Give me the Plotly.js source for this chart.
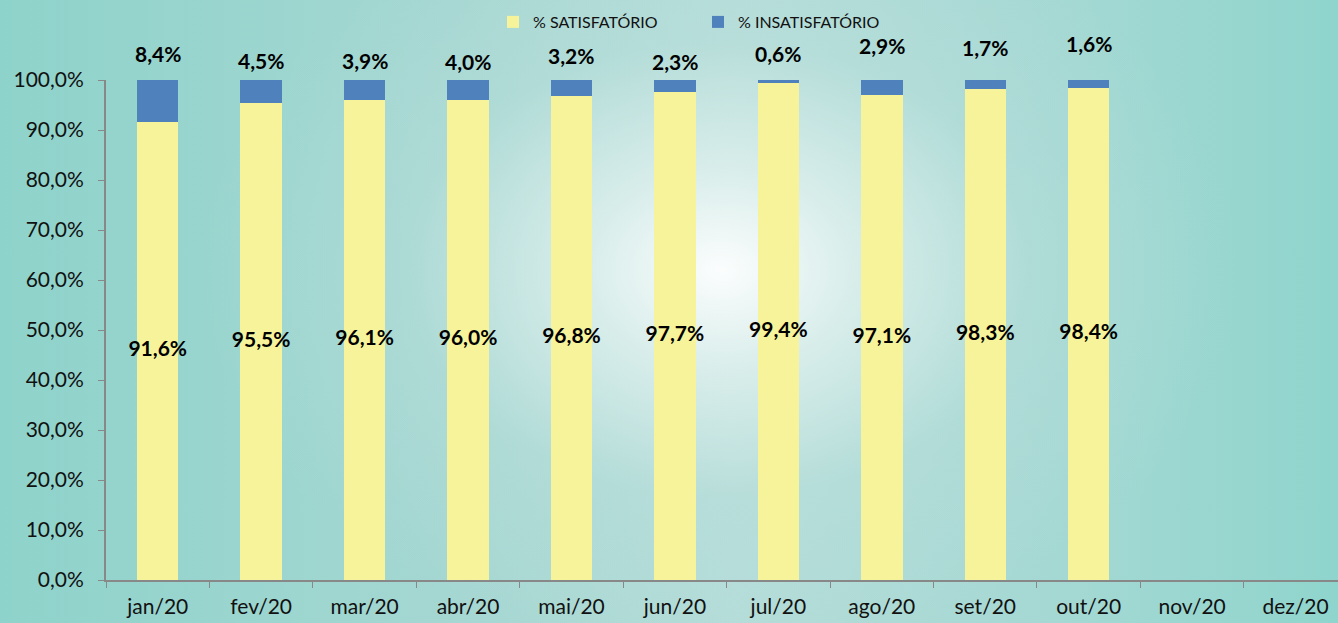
<!DOCTYPE html>
<html><head><meta charset="utf-8">
<script src="https://cdn.plot.ly/plotly-3.0.1.min.js"></script>
<style>
html,body{margin:0;padding:0;width:1338px;height:623px;overflow:hidden;}
body{background:
 radial-gradient(ellipse 520px 380px at 720px 270px, rgba(255,255,255,0.95) 0%, rgba(235,246,244,0.7) 25%, rgba(190,225,221,0.35) 60%, rgba(150,212,205,0) 100%),
 linear-gradient(90deg,#8ed3cb 0%,#a6d7d2 35%,#b4dcd8 55%,#a4d8d3 80%,#8fd5cd 100%);}
#chart{width:1338px;height:623px;}
</style></head>
<body><div id="chart"></div>
<script>
const months = ["jan/20","fev/20","mar/20","abr/20","mai/20","jun/20","jul/20","ago/20","set/20","out/20","nov/20","dez/20"];
const satisfatorio = [91.6,95.5,96.1,96.0,96.8,97.7,99.4,97.1,98.3,98.4,null,null];
const insatisfatorio = [8.4,4.5,3.9,4.0,3.2,2.3,0.6,2.9,1.7,1.6,null,null];
// label vertical offsets (px, layout only)
const topLabelShift = [12,5,5,4,10,4,12,20,18,22];

const fmt = v => v.toFixed(1).replace('.', ',') + '%';
const sat = satisfatorio.map(v => v == null ? null : v/100);
const ins = insatisfatorio.map(v => v == null ? null : v/100);

const traces = [
 {type:'bar', name:'% SATISFATÓRIO', x:months, y:sat, marker:{color:'#f7f39a'}, hoverinfo:'skip'},
 {type:'bar', name:'% INSATISFATÓRIO', x:months, y:ins, marker:{color:'#4f81bd'}, hoverinfo:'skip'},
 {type:'scatter', mode:'text', x:months, y:sat.map(v => v == null ? null : v/2),
  text:satisfatorio.map(v => v == null ? '' : fmt(v)), textfont:{family:'Lato, sans-serif', size:21, color:'#000', weight:'bold'},
  showlegend:false, cliponaxis:false, hoverinfo:'skip'}
];

const annotations = [];
insatisfatorio.forEach((v,i) => {
  if (v == null) return;
  annotations.push({x:months[i], y:1, xref:'x', yref:'y', text:'<b>'+fmt(v)+'</b>', showarrow:false,
    yanchor:'bottom', yshift:topLabelShift[i], font:{family:'Lato, sans-serif', size:21, color:'#000'}});
});

const layout = {
 width:1338, height:623,
 paper_bgcolor:'rgba(0,0,0,0)', plot_bgcolor:'rgba(0,0,0,0)',
 barmode:'stack', bargap:0.6,
 separators:',.',
 margin:{l:106, r:0, t:80, b:43, autoexpand:false},
 font:{family:'Lato, sans-serif', color:'#111'},
 showlegend:true,
 legend:{orientation:'h', x:(493-106)/1232, xanchor:'left', y:1+(80-22)/500, yanchor:'middle', font:{size:16, family:'Lato, sans-serif'},
   traceorder:'normal', itemwidth:30, entrywidth:160, bgcolor:'rgba(0,0,0,0)'},
 xaxis:{type:'category', range:[-0.5,11.41], tickson:'boundaries', ticks:'outside', ticklen:6, tickcolor:'#888', showline:true, linecolor:'#888', linewidth:2,
   tickfont:{size:21}, showgrid:false, fixedrange:true, ticklabelstandoff:7},
 yaxis:{range:[0,1], tickformat:'.1%', dtick:0.1, ticks:'outside', ticklen:6, tickcolor:'#888', showline:true, linecolor:'#888', linewidth:2,
   tickfont:{size:21}, showgrid:false, zeroline:false, ticklabelstandoff:10},
 annotations: annotations
};
Plotly.newPlot('chart', traces, layout, {displayModeBar:false, staticPlot:true});
</script></body></html>
